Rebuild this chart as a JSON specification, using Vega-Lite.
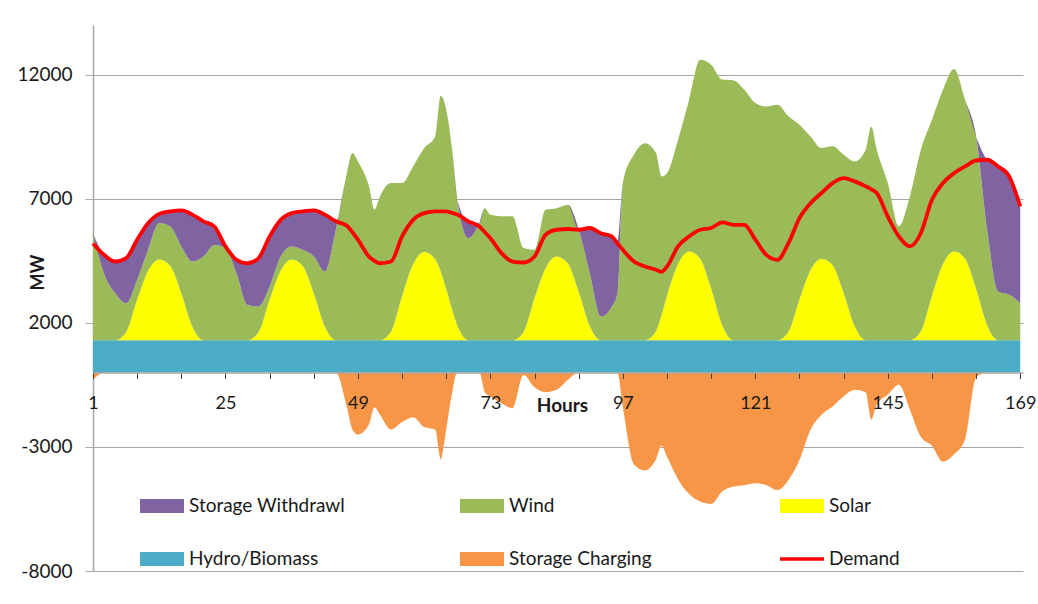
{
  "$schema": "https://vega.github.io/schema/vega-lite/v6.json",
  "width": 930,
  "height": 546,
  "autosize": {"type": "none"},
  "padding": {"left": 93, "top": 25, "right": 15, "bottom": 33},
  "background": "white",
  "config": {"font": "Lato", "view": {"stroke": null}},
  "data": {"values": [
    {"h":1,"hydro":1300,"solar":0,"wind":4300,"withdrawal":0,"charging":-300,"demand":5200},
    {"h":3,"hydro":1300,"solar":0,"wind":2680,"withdrawal":760,"charging":0,"demand":4740},
    {"h":5,"hydro":1300,"solar":0,"wind":1900,"withdrawal":1270,"charging":0,"demand":4470},
    {"h":7,"hydro":1300,"solar":325,"wind":1165,"withdrawal":1820,"charging":0,"demand":4610},
    {"h":9,"hydro":1300,"solar":1625,"wind":805,"withdrawal":1620,"charging":0,"demand":5350},
    {"h":11,"hydro":1300,"solar":2795,"wind":845,"withdrawal":1080,"charging":0,"demand":6020},
    {"h":13,"hydro":1300,"solar":3250,"wind":1470,"withdrawal":370,"charging":0,"demand":6390},
    {"h":15,"hydro":1300,"solar":2990,"wind":1590,"withdrawal":610,"charging":0,"demand":6490},
    {"h":17,"hydro":1300,"solar":1885,"wind":1895,"withdrawal":1450,"charging":0,"demand":6530},
    {"h":19,"hydro":1300,"solar":550,"wind":2620,"withdrawal":1890,"charging":0,"demand":6360},
    {"h":21,"hydro":1300,"solar":0,"wind":3370,"withdrawal":1420,"charging":0,"demand":6090},
    {"h":23,"hydro":1300,"solar":0,"wind":3840,"withdrawal":740,"charging":0,"demand":5880},
    {"h":25,"hydro":1300,"solar":0,"wind":3710,"withdrawal":70,"charging":0,"demand":5080},
    {"h":27,"hydro":1300,"solar":0,"wind":2690,"withdrawal":550,"charging":0,"demand":4540},
    {"h":29,"hydro":1300,"solar":0,"wind":1420,"withdrawal":1680,"charging":0,"demand":4400},
    {"h":31,"hydro":1300,"solar":325,"wind":1035,"withdrawal":1950,"charging":0,"demand":4610},
    {"h":33,"hydro":1300,"solar":1625,"wind":535,"withdrawal":2020,"charging":0,"demand":5480},
    {"h":35,"hydro":1300,"solar":2795,"wind":575,"withdrawal":1480,"charging":0,"demand":6150},
    {"h":37,"hydro":1300,"solar":3250,"wind":530,"withdrawal":1340,"charging":0,"demand":6420},
    {"h":39,"hydro":1300,"solar":2990,"wind":650,"withdrawal":1550,"charging":0,"demand":6490},
    {"h":41,"hydro":1300,"solar":1885,"wind":1485,"withdrawal":1860,"charging":0,"demand":6530},
    {"h":43,"hydro":1300,"solar":550,"wind":2220,"withdrawal":2290,"charging":0,"demand":6360},
    {"h":45,"hydro":1300,"solar":0,"wind":4450,"withdrawal":340,"charging":0,"demand":6090},
    {"h":47,"hydro":1300,"solar":0,"wind":6730,"withdrawal":0,"charging":-1400,"demand":5910},
    {"h":48,"hydro":1300,"solar":0,"wind":7540,"withdrawal":0,"charging":-2300,"demand":5650},
    {"h":49,"hydro":1300,"solar":0,"wind":7200,"withdrawal":0,"charging":-2500,"demand":5350},
    {"h":51,"hydro":1300,"solar":0,"wind":6200,"withdrawal":0,"charging":-2100,"demand":4670},
    {"h":52,"hydro":1300,"solar":0,"wind":5260,"withdrawal":0,"charging":-1400,"demand":4500},
    {"h":53,"hydro":1300,"solar":0,"wind":5800,"withdrawal":0,"charging":-1700,"demand":4400},
    {"h":55,"hydro":1300,"solar":355,"wind":5975,"withdrawal":0,"charging":-2300,"demand":4470},
    {"h":57,"hydro":1300,"solar":1775,"wind":4555,"withdrawal":0,"charging":-2000,"demand":5480},
    {"h":59,"hydro":1300,"solar":3055,"wind":3945,"withdrawal":0,"charging":-1800,"demand":6150},
    {"h":61,"hydro":1300,"solar":3550,"wind":4190,"withdrawal":0,"charging":-2200,"demand":6420},
    {"h":63,"hydro":1300,"solar":3265,"wind":4945,"withdrawal":0,"charging":-2300,"demand":6490},
    {"h":64,"hydro":1300,"solar":2770,"wind":7080,"withdrawal":0,"charging":-3500,"demand":6490},
    {"h":65,"hydro":1300,"solar":2060,"wind":7230,"withdrawal":0,"charging":-2300,"demand":6490},
    {"h":66,"hydro":1300,"solar":1280,"wind":6520,"withdrawal":0,"charging":-900,"demand":6430},
    {"h":67,"hydro":1300,"solar":605,"wind":5055,"withdrawal":0,"charging":0,"demand":6360},
    {"h":69,"hydro":1300,"solar":0,"wind":4110,"withdrawal":680,"charging":0,"demand":6090},
    {"h":71,"hydro":1300,"solar":0,"wind":4720,"withdrawal":0,"charging":0,"demand":5880},
    {"h":72,"hydro":1300,"solar":0,"wind":5320,"withdrawal":0,"charging":-800,"demand":5650},
    {"h":73,"hydro":1300,"solar":0,"wind":5050,"withdrawal":0,"charging":-970,"demand":5410},
    {"h":75,"hydro":1300,"solar":0,"wind":4990,"withdrawal":0,"charging":-1240,"demand":4810},
    {"h":77,"hydro":1300,"solar":0,"wind":4990,"withdrawal":0,"charging":-1440,"demand":4470},
    {"h":79,"hydro":1300,"solar":335,"wind":3375,"withdrawal":0,"charging":-100,"demand":4430},
    {"h":81,"hydro":1300,"solar":1685,"wind":1955,"withdrawal":0,"charging":-600,"demand":4670},
    {"h":83,"hydro":1300,"solar":2900,"wind":2360,"withdrawal":0,"charging":-800,"demand":5550},
    {"h":85,"hydro":1300,"solar":3370,"wind":1950,"withdrawal":0,"charging":-700,"demand":5750},
    {"h":87,"hydro":1300,"solar":3100,"wind":2360,"withdrawal":0,"charging":-300,"demand":5780},
    {"h":89,"hydro":1300,"solar":1955,"wind":2495,"withdrawal":0,"charging":0,"demand":5750},
    {"h":91,"hydro":1300,"solar":575,"wind":2125,"withdrawal":1820,"charging":0,"demand":5820},
    {"h":93,"hydro":1300,"solar":0,"wind":950,"withdrawal":3360,"charging":0,"demand":5610},
    {"h":95,"hydro":1300,"solar":0,"wind":1350,"withdrawal":2830,"charging":0,"demand":5480},
    {"h":96,"hydro":1300,"solar":0,"wind":1850,"withdrawal":2050,"charging":0,"demand":5200},
    {"h":97,"hydro":1300,"solar":0,"wind":6330,"withdrawal":0,"charging":-1400,"demand":4940},
    {"h":99,"hydro":1300,"solar":0,"wind":7470,"withdrawal":0,"charging":-3700,"demand":4470},
    {"h":101,"hydro":1300,"solar":0,"wind":7940,"withdrawal":0,"charging":-3950,"demand":4270},
    {"h":103,"hydro":1300,"solar":357,"wind":7183,"withdrawal":0,"charging":-3500,"demand":4140},
    {"h":104,"hydro":1300,"solar":1000,"wind":5600,"withdrawal":0,"charging":-2950,"demand":4050},
    {"h":105,"hydro":1300,"solar":1785,"wind":4945,"withdrawal":0,"charging":-3400,"demand":4270},
    {"h":107,"hydro":1300,"solar":3070,"wind":5010,"withdrawal":0,"charging":-4300,"demand":5080},
    {"h":109,"hydro":1300,"solar":3570,"wind":6120,"withdrawal":0,"charging":-4900,"demand":5480},
    {"h":111,"hydro":1300,"solar":3285,"wind":8015,"withdrawal":0,"charging":-5200,"demand":5750},
    {"h":113,"hydro":1300,"solar":2070,"wind":9030,"withdrawal":0,"charging":-5300,"demand":5820},
    {"h":115,"hydro":1300,"solar":605,"wind":9895,"withdrawal":0,"charging":-4800,"demand":6050},
    {"h":117,"hydro":1300,"solar":0,"wind":10470,"withdrawal":0,"charging":-4600,"demand":5950},
    {"h":119,"hydro":1300,"solar":0,"wind":10090,"withdrawal":0,"charging":-4540,"demand":5950},
    {"h":121,"hydro":1300,"solar":0,"wind":9560,"withdrawal":0,"charging":-4460,"demand":5350},
    {"h":123,"hydro":1300,"solar":0,"wind":9420,"withdrawal":0,"charging":-4540,"demand":4740},
    {"h":125,"hydro":1300,"solar":0,"wind":9490,"withdrawal":0,"charging":-4740,"demand":4540},
    {"h":127,"hydro":1300,"solar":330,"wind":8690,"withdrawal":0,"charging":-4330,"demand":5210},
    {"h":129,"hydro":1300,"solar":1640,"wind":7040,"withdrawal":0,"charging":-3530,"demand":6220},
    {"h":131,"hydro":1300,"solar":2820,"wind":5390,"withdrawal":0,"charging":-2310,"demand":6820},
    {"h":133,"hydro":1300,"solar":3280,"wind":4460,"withdrawal":0,"charging":-1700,"demand":7230},
    {"h":135,"hydro":1300,"solar":3020,"wind":4790,"withdrawal":0,"charging":-1370,"demand":7630},
    {"h":137,"hydro":1300,"solar":1900,"wind":5570,"withdrawal":0,"charging":-970,"demand":7830},
    {"h":139,"hydro":1300,"solar":560,"wind":6640,"withdrawal":0,"charging":-700,"demand":7700},
    {"h":141,"hydro":1300,"solar":0,"wind":7670,"withdrawal":0,"charging":-800,"demand":7500},
    {"h":142,"hydro":1300,"solar":0,"wind":8600,"withdrawal":0,"charging":-1900,"demand":7380},
    {"h":143,"hydro":1300,"solar":0,"wind":7670,"withdrawal":0,"charging":-1300,"demand":7230},
    {"h":145,"hydro":1300,"solar":0,"wind":6330,"withdrawal":0,"charging":-900,"demand":6280},
    {"h":147,"hydro":1300,"solar":0,"wind":4580,"withdrawal":0,"charging":-500,"demand":5480},
    {"h":149,"hydro":1300,"solar":0,"wind":5790,"withdrawal":0,"charging":-1500,"demand":5080},
    {"h":151,"hydro":1300,"solar":357,"wind":7313,"withdrawal":0,"charging":-2600,"demand":5620},
    {"h":153,"hydro":1300,"solar":1785,"wind":7095,"withdrawal":0,"charging":-2950,"demand":6960},
    {"h":155,"hydro":1300,"solar":3070,"wind":7020,"withdrawal":0,"charging":-3600,"demand":7630},
    {"h":157,"hydro":1300,"solar":3570,"wind":7360,"withdrawal":0,"charging":-3300,"demand":8030},
    {"h":159,"hydro":1300,"solar":3285,"wind":6405,"withdrawal":0,"charging":-2700,"demand":8300},
    {"h":161,"hydro":1300,"solar":2070,"wind":6140,"withdrawal":0,"charging":-200,"demand":8540},
    {"h":163,"hydro":1300,"solar":605,"wind":3845,"withdrawal":2820,"charging":0,"demand":8570},
    {"h":165,"hydro":1300,"solar":0,"wind":1960,"withdrawal":5040,"charging":0,"demand":8300},
    {"h":167,"hydro":1300,"solar":0,"wind":1830,"withdrawal":4770,"charging":0,"demand":7900},
    {"h":169,"hydro":1300,"solar":0,"wind":1490,"withdrawal":3900,"charging":0,"demand":6690}
  ]},
  "layer": [
    {
      "transform": [{"fold": ["hydro", "solar", "wind", "withdrawal"], "as": ["series", "MW"]}],
      "mark": {"type": "area", "opacity": 1, "interpolate": "monotone"},
      "encoding": {
        "x": {
          "field": "h", "type": "quantitative",
          "scale": {"domain": [1, 169.5], "nice": false, "zero": false},
          "axis": {
            "values": [1,3,5,7,9,11,13,15,17,19,21,23,25,27,29,31,33,35,37,39,41,43,45,47,49,51,53,55,57,59,61,63,65,67,69,71,73,75,77,79,81,83,85,87,89,91,93,95,97,99,101,103,105,107,109,111,113,115,117,119,121,123,125,127,129,131,133,135,137,139,141,143,145,147,149,151,153,155,157,159,161,163,165,167,169],
            "labelExpr": "(datum.value - 1) % 24 === 0 ? datum.value : ''",
            "offset": -198.5,
            "zindex": 2,
            "grid": false,
            "domainColor": "#A6A6A6",
            "domainWidth": 1.5,
            "tickColor": "#404040",
            "tickSize": 6,
            "labelPadding": 16,
            "labelFont": "Lato",
            "labelFontSize": 18,
            "labelColor": "#1a1a1a",
            "labelFlush": false,
            "labelOverlap": false,
            "title": "Hours",
            "titleFont": "Lato",
            "titleFontSize": 19,
            "titleFontWeight": "bold",
            "titleColor": "#1a1a1a",
            "titleX": 469,
            "titleY": 39,
            "titleAlign": "center",
            "titleBaseline": "alphabetic"
          }
        },
        "y": {
          "field": "MW", "type": "quantitative", "stack": "zero",
          "scale": {"domain": [-8000, 14000], "nice": false, "zero": false},
          "axis": {
            "values": [-8000, -3000, 2000, 7000, 12000],
            "labelExpr": "'' + datum.value",
            "grid": true,
            "gridColor": "#A6A6A6",
            "gridWidth": 1.2,
            "domainColor": "#A6A6A6",
            "domainWidth": 1.5,
            "tickColor": "#A6A6A6",
            "tickSize": 8,
            "labelPadding": 13,
            "labelFont": "Lato",
            "labelFontSize": 19,
            "labelColor": "#1a1a1a",
            "title": "MW",
            "titleFont": "Lato",
            "titleFontSize": 18,
            "titleFontWeight": "bold",
            "titleColor": "#1a1a1a",
            "titleAngle": -90,
            "titleX": -55,
            "titleY": 247,
            "titleAlign": "center",
            "titleBaseline": "middle"
          }
        },
        "color": {
          "field": "series", "type": "nominal",
          "scale": {
            "domain": ["withdrawal", "wind", "solar", "hydro", "charging", "demand"],
            "range": ["#8064A2", "#9BBB59", "#FFFF00", "#4BACC6", "#F79646", "#FF0000"]
          },
          "legend": {
            "title": null,
            "orient": "none",
            "legendX": 47,
            "legendY": 459,
            "direction": "horizontal",
            "columns": 3,
            "gridAlign": "all",
            "columnPadding": 114,
            "rowPadding": 21,
            "padding": 0,
            "symbolType": "M-1,-0.32H1V0.32H-1Z",
            "symbolSize": 1936,
            "symbolStrokeWidth": 0,
            "symbolOpacity": 1,
            "labelFont": "Lato",
            "labelFontSize": 19,
            "labelColor": "#1a1a1a",
            "labelOffset": 5,
            "labelLimit": 400,
            "labelExpr": "datum.label === 'withdrawal' ? 'Storage Withdrawl' : datum.label === 'wind' ? 'Wind' : datum.label === 'solar' ? 'Solar' : datum.label === 'hydro' ? 'Hydro/Biomass' : datum.label === 'charging' ? 'Storage Charging' : 'Demand'",
            "encode": {
              "symbols": {
                "update": {
                  "shape": {"signal": "datum.value === 'demand' ? 'M-1,-0.08H1V0.08H-1Z' : 'M-1,-0.32H1V0.32H-1Z'"},
                  "fill": {"scale": "color", "field": "value"},
                  "stroke": {"value": "transparent"},
                  "opacity": {"value": 1}
                }
              }
            }
          }
        },
        "order": {"field": "series", "sort": "ascending"}
      }
    },
    {
      "mark": {"type": "area", "opacity": 1, "interpolate": "monotone"},
      "encoding": {
        "x": {"field": "h", "type": "quantitative"},
        "y": {"field": "charging", "type": "quantitative"},
        "color": {"datum": "charging"}
      }
    },
    {
      "mark": {"type": "line", "strokeWidth": 3.8, "interpolate": "monotone"},
      "encoding": {
        "x": {"field": "h", "type": "quantitative"},
        "y": {"field": "demand", "type": "quantitative"},
        "color": {"datum": "demand"}
      }
    }
  ]
}
